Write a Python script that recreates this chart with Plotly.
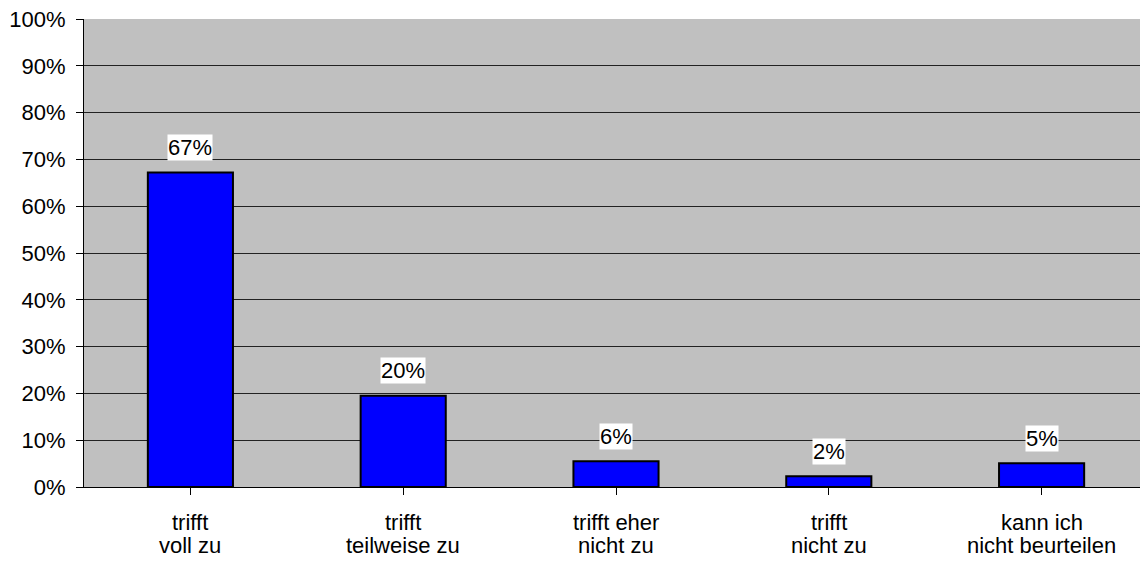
import plotly.graph_objects as go

categories_line1 = ["trifft", "trifft", "trifft eher", "trifft", "kann ich"]
categories_line2 = ["voll zu", "teilweise zu", "nicht zu", "nicht zu", "nicht beurteilen"]
values = [67.2, 19.5, 5.5, 2.3, 5.1]
labels = ["67%", "20%", "6%", "2%", "5%"]
y_ticks = list(range(0, 101, 10))
y_ticklabels = [f"{t}%" for t in y_ticks]

FONT = "Liberation Sans, Arial, sans-serif"
FS = 22

n = len(values)
fig = go.Figure()
fig.add_trace(go.Bar(
    x=list(range(n)), y=values,
    marker=dict(color="#0000FF", line=dict(color="black", width=2)),
    width=0.4, hoverinfo="skip",
))

for i, (v, lab) in enumerate(zip(values, labels)):
    fig.add_annotation(x=i, y=v, text=lab, showarrow=False, yshift=25,
                       yanchor="middle", bgcolor="white", borderpad=0,
                       font=dict(family=FONT, size=FS, color="black"))

for i, (l1, l2) in enumerate(zip(categories_line1, categories_line2)):
    fig.add_annotation(x=i, y=0, text=l1, showarrow=False, yshift=-35,
                       yanchor="middle", font=dict(family=FONT, size=FS, color="black"))
    fig.add_annotation(x=i, y=0, text=l2, showarrow=False, yshift=-58,
                       yanchor="middle", font=dict(family=FONT, size=FS, color="black"))

fig.update_layout(
    width=1140, height=555,
    margin=dict(l=76, r=0, t=11, b=76),
    paper_bgcolor="white", plot_bgcolor="#C0C0C0",
    showlegend=False,
    font=dict(family=FONT, size=FS, color="black"),
)
fig.update_xaxes(
    tickmode="array", tickvals=list(range(n)), ticktext=[""] * n,
    range=[-0.5, n - 0.5],
    showline=True, linecolor="black", linewidth=1,
    ticks="outside", ticklen=7, tickcolor="black", tickson="boundaries",
    showgrid=False, zeroline=False,
)
fig.update_yaxes(
    range=[0, 100], tickvals=y_ticks, ticktext=y_ticklabels,
    showline=True, linecolor="black", linewidth=1,
    ticks="outside", ticklen=7, tickcolor="black",
    ticklabeloverflow="allow", ticklabelstandoff=6,
    showgrid=True, gridcolor="#222222", gridwidth=1, zeroline=False,
    tickfont=dict(family=FONT, size=FS, color="black"),
)

fig.write_html("out.html")
